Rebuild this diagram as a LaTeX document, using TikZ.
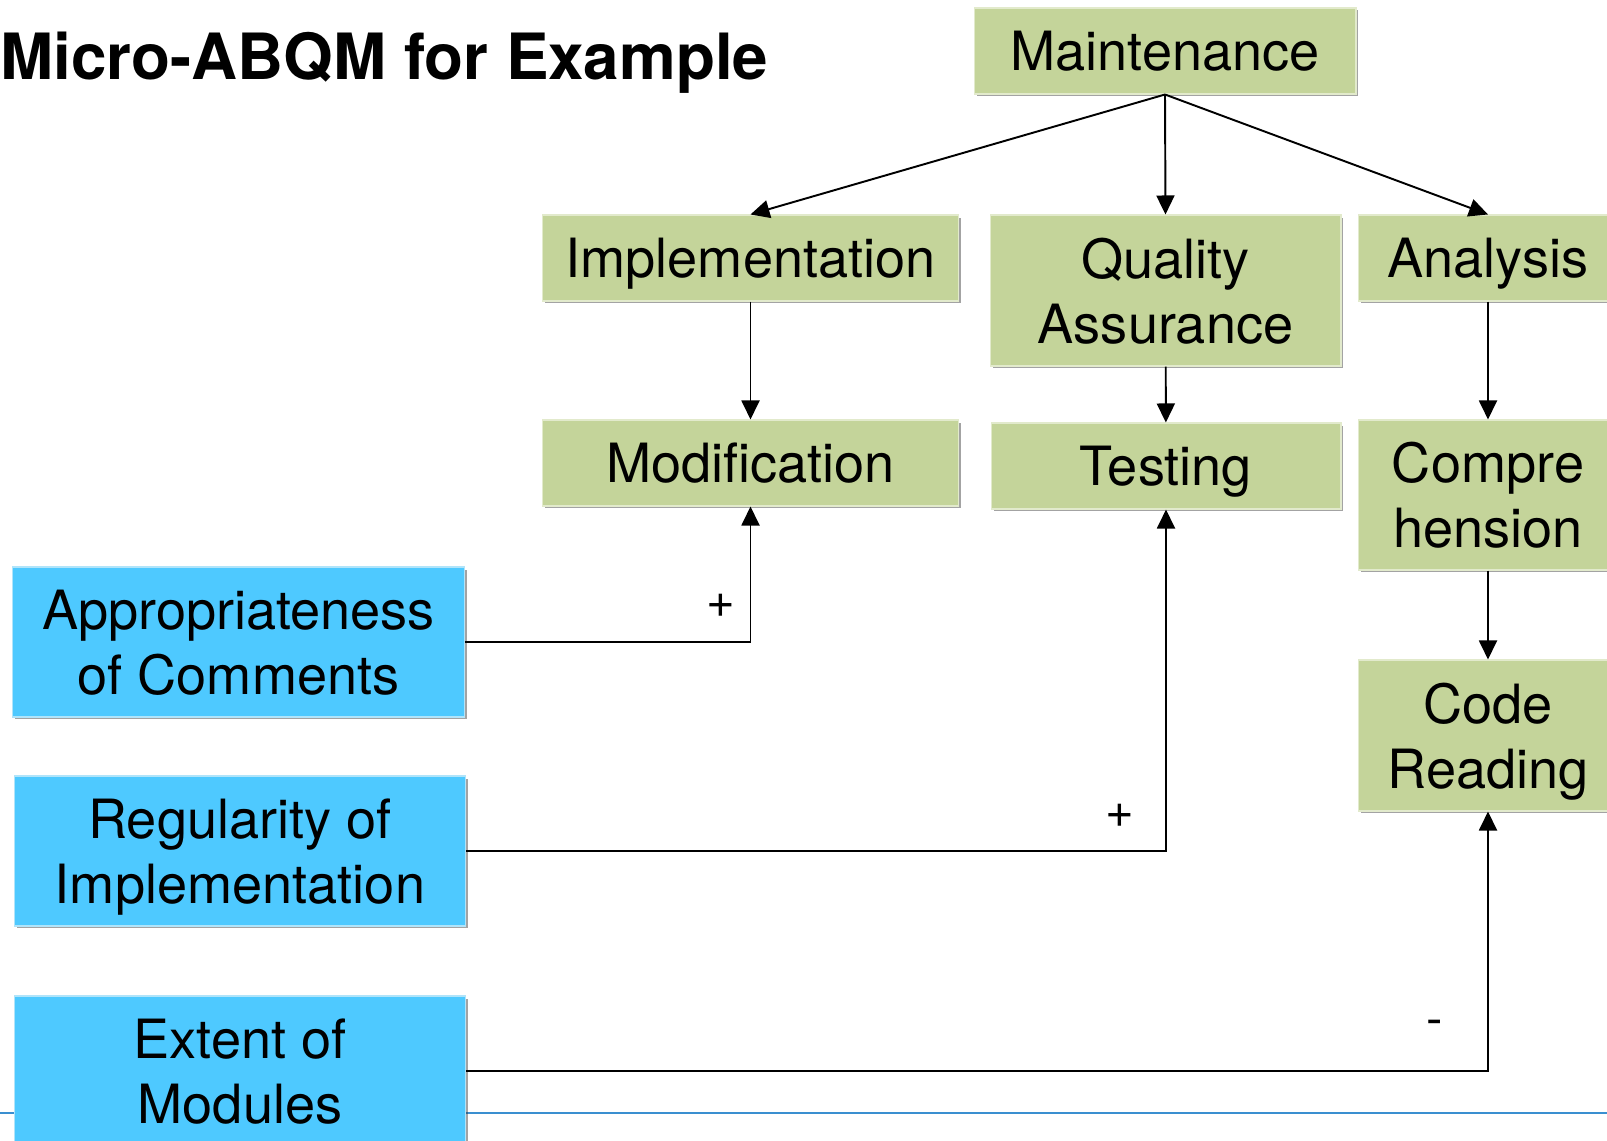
\documentclass[tikz,border=0pt]{standalone}
\usepackage{fontspec}
\setmainfont{TeX Gyre Heros}
\usetikzlibrary{positioning,arrows.meta,shadows}
\tikzstyle{pixels} = [x = .02cm, y = -.02cm]
\definecolor{taskGreen}{RGB}{196,212,154}
\definecolor{taskGreenEdge}{RGB}{226,234,204}
\definecolor{factorBlue}{RGB}{78,201,255}
\definecolor{factorBlueEdge}{RGB}{176,228,250}
\definecolor{ruleBlue}{RGB}{58,143,208}
\tikzstyle{boxShadow} = [drop shadow={shadow xshift=.05cm, shadow yshift=-.05cm, opacity=.45, fill=black!80}]
\tikzstyle{boxText} = [font=\fontsize{30.8}{37}\selectfont, align=center, inner sep=0pt, text depth=0pt, line width=.6pt, boxShadow]
\tikzstyle{taskBox} = [boxText, fill=taskGreen, draw=taskGreenEdge]
\tikzstyle{factorBox} = [boxText, fill=factorBlue, draw=factorBlueEdge, minimum width=9.04cm, minimum height=3cm]
\tikzstyle{link} = [-{Triangle[length=.38cm, width=.36cm]}, line width=1.1pt]
\tikzstyle{signLabel} = [font=\fontsize{28}{28}\selectfont, inner sep=0pt]

\begin{document}
\begin{tikzpicture}[pixels]
  \useasboundingbox (0,0) rectangle (1607,1141);
  \draw [ruleBlue, line width=1.4pt] (0,1113) -- (1607,1113);

  \node [anchor=base west, inner sep=0pt, font=\bfseries\fontsize{36.3}{37}\selectfont] (title) at (0,80) {Micro-ABQM for Example};

  \node [taskBox, minimum width=7.64cm, minimum height=1.72cm] (maintenance) at (1165,51) {Maintenance};
  \node [taskBox, minimum width=8.34cm, minimum height=1.72cm] (implementation) at (750.5,258) {Implementation};
  \node [taskBox, minimum width=7.02cm, minimum height=3.02cm] (quality) at (1165.5,290.5) {Quality\\Assurance};
  \node [taskBox, minimum width=5.2cm, minimum height=1.72cm] (analysis) at (1488,258) {Analysis};
  \node [taskBox, minimum width=8.34cm, minimum height=1.72cm] (modification) at (750.5,463) {Modification};
  \node [taskBox, minimum width=7cm, minimum height=1.72cm] (testing) at (1166,466) {Testing};
  \node [taskBox, minimum width=5.2cm, minimum height=3cm] (comprehension) at (1488,495) {Compre\\hension};
  \node [taskBox, minimum width=5.2cm, minimum height=3.02cm] (codeReading) at (1488,735.5) {Code\\Reading};

  \node [factorBox] (comments) at (238.5,642) {Appropriateness\\of Comments};
  \node [factorBox] (regularity) at (240,851) {Regularity of\\Implementation};
  \node [factorBox] (extent) at (240,1071) {Extent of\\Modules};

  \draw [link] (maintenance.south) -- (implementation.north);
  \draw [link] (maintenance.south) -- (quality.north);
  \draw [link] (maintenance.south) -- (analysis.north);
  \draw [link] (implementation) -- (modification);
  \draw [link] (quality) -- (testing);
  \draw [link] (analysis) -- (comprehension);
  \draw [link] (comprehension) -- (codeReading);

  \draw [link] (comments.east) -| (modification.south) node [signLabel, pos=.5, xshift=-.6cm, yshift=.72cm] {+};
  \draw [link] (regularity.east) -| (testing.south) node [signLabel, pos=.5, xshift=-.92cm, yshift=.7cm] {+};
  \draw [link] (extent.east) -| (codeReading.south) node [signLabel, pos=.5, xshift=-1.06cm, yshift=.86cm] {-};
\end{tikzpicture}
\end{document}
